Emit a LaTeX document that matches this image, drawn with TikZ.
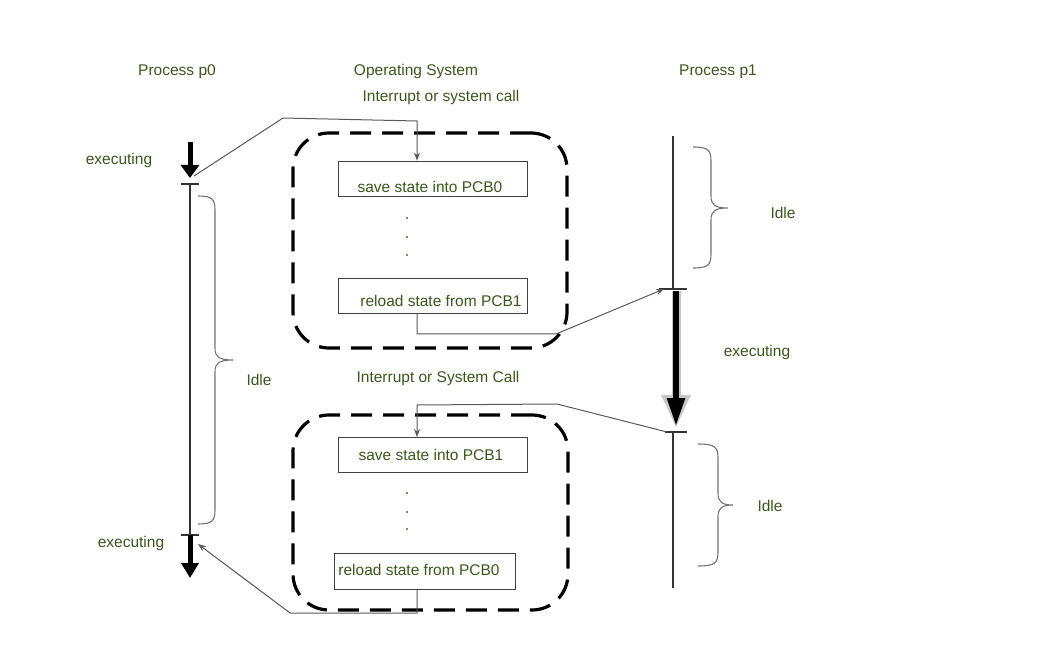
\documentclass[tikz,border=0pt]{standalone}
\usepackage{fontspec}
\setmainfont{Liberation Sans}
\usetikzlibrary{arrows.meta}
\definecolor{txt}{RGB}{58,88,28}
\definecolor{dotc}{RGB}{120,80,50}
\newcommand\mybrace[6]{% x0, xm, xt, y1, ym, y2
 \draw[bracestyle] (#1,#4) .. controls (#2-3,#4) and (#2,#4+3) .. (#2,#4+14) -- (#2,#5-12) .. controls (#2,#5-3) and (#2+4,#5) .. (#3,#5) .. controls (#2+4,#5) and (#2,#5+3) .. (#2,#5+12) -- (#2,#6-14) .. controls (#2,#6-3) and (#2-3,#6) .. (#1,#6);}
\begin{document}
\begin{tikzpicture}[x=1pt,y=-1pt,
 lbl/.style={text=txt,font=\fontsize{15.5}{18}\selectfont,inner sep=0pt,yshift=-1.5pt},
 stepbox/.style={draw=black!75,line width=0.9pt,minimum width=189pt,minimum height=35pt,inner sep=0pt},
 osbox/.style={draw=black,line width=3.2pt,dash pattern=on 21pt off 11pt,rounded corners=36pt,inner sep=0pt},
 conn/.style={draw=black!65,line width=1pt,-{Stealth[length=8pt,width=6pt]}},
 tl/.style={draw=black!80,line width=1.8pt},
 tick/.style={draw=black!80,line width=1.8pt},
 bracestyle/.style={draw=black!55,line width=1.1pt},
 dot/.style={circle,fill=dotc,inner sep=0pt,minimum size=2.3pt}
]
\useasboundingbox (0,0) rectangle (1042,668);

% headings
\node[lbl] (hp0) at (177,70) {Process p0};
\node[lbl] (hos) at (416,70) {Operating System};
\node[lbl] (hint1) at (441,96) {Interrupt or system call};
\node[lbl] (hp1) at (718,70) {Process p1};
\node[lbl] (hint2) at (438,377) {Interrupt or System Call};

% labels
\node[lbl] (ex1) at (119,159) {executing};
\node[lbl] (ex2) at (131,542) {executing};
\node[lbl] (ex3) at (757,351) {executing};
\node[lbl] (idle0) at (259,378) {Idle};
\node[lbl] (idle1) at (783,211) {Idle};
\node[lbl] (idle2) at (770,504) {Idle};

% OS dashed boxes
\node[osbox,minimum width=274pt,minimum height=215pt] (os1) at (430,240.5) {};
\node[osbox,minimum width=275pt,minimum height=195pt] (os2) at (430.5,512.5) {};

% step boxes
\node[stepbox] (save0) at (432.5,178.5) {};
\node[lbl] (save0t) at (430,185) {save state into PCB0};
\node[stepbox] (reload1) at (432.5,295.5) {};
\node[lbl] (reload1t) at (441,299) {reload state from PCB1};
\node[stepbox] (save1) at (432.5,455) {};
\node[lbl] (save1t) at (431,453) {save state into PCB1};
\node[stepbox,minimum width=181pt,minimum height=36pt] (reload0) at (424.5,571) {};
\node[lbl] (reload0t) at (419,568) {reload state from PCB0};

% dots
\node[dot] (d1) at (407,218) {};
\node[dot] (d2) at (407,237) {};
\node[dot] (d3) at (407,255) {};
\node[dot] (d4) at (407,493) {};
\node[dot] (d5) at (407,512) {};
\node[dot] (d6) at (407,529) {};

% Process p0 timeline
\coordinate (p0a) at (190,142);
\coordinate (p0b) at (190,178);
\coordinate (p0t1) at (190,184);
\coordinate (p0t2) at (190,535);
\coordinate (p0e) at (190,578);
\draw[line width=5pt,-{Triangle[length=13pt,width=18pt]}] (p0a) -- (p0b);
\draw[tick] (181,184) -- (199,184);
\draw[tl] (p0t1) -- (p0t2);
\draw[tick] (181,535) -- (199,535);
\draw[line width=5pt,-{Triangle[length=15pt,width=17pt]}] (p0t2) -- (p0e);
\mybrace{198}{215}{233}{196}{360}{524}

% Process p1 timeline
\coordinate (p1a) at (673,136);
\coordinate (p1t1) at (673,289);
\coordinate (p1t2) at (673,432);
\coordinate (p1e) at (673,588);
\draw[tl] (p1a) -- (p1t1);
\draw[tick] (659,289) -- (687,289);
\draw[line width=9pt,draw=black!22,-{Triangle[length=33pt,width=27pt,fill=black!22]}] (676,291) -- (676,428);
\draw[line width=5.5pt,-{Triangle[length=28pt,width=17pt]}] (676,291) -- (676,426);
\draw[tick] (665,432) -- (687,432);
\draw[tl] (p1t2) -- (p1e);
\mybrace{693}{711}{728}{147}{208}{268}
\mybrace{698}{718}{733}{444}{505}{566}

% connectors
\coordinate (c0) at (194,176);
\coordinate (cA) at (283,118);
\coordinate (cB) at (417,121);
\draw[conn] (c0) -- (cA) -- (cB) -- (cB |- save0.north);

\coordinate (cC) at (417,334);
\coordinate (cD) at (556,334);
\coordinate (cE) at (664,289);
\draw[conn] (reload1.south -| cB) -- (cC) -- (cD) -- (cE);

\coordinate (cF) at (667,432);
\coordinate (cG) at (557,404);
\coordinate (cH) at (417,405);
\draw[conn] (cF) -- (cG) -- (cH) -- (cH |- save1.north);

\coordinate (cI) at (417,613);
\coordinate (cJ) at (290,613);
\coordinate (cK) at (198,544);
\draw[conn] (reload0.south -| cB) -- (cI) -- (cJ) -- (cK);
\end{tikzpicture}
\end{document}
